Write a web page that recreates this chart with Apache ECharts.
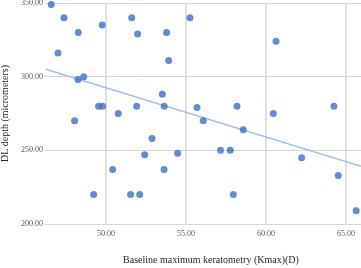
<!DOCTYPE html>
<html>
<head>
<meta charset="utf-8">
<script src="https://cdn.jsdelivr.net/npm/echarts@6/dist/echarts.min.js"></script>
<style>
  html, body { margin: 0; padding: 0; background: #fff; }
  #chart { width: 361px; height: 268px; }
</style>
</head>
<body>
<div id="chart"></div>
<script>
// Baseline Kmax (D) vs DL depth (micrometers)
const kmax = [
  46.58, 47.38, 48.27, 49.77, 47.0, 48.25, 48.61, 51.61, 51.98, 53.79,
  53.92, 55.25, 60.63, 48.04, 49.54, 49.79, 50.77, 51.92, 53.52, 53.64,
  55.69, 56.08, 58.19, 58.58, 60.46, 64.25, 52.88, 52.42, 54.48, 53.63,
  50.42, 49.23, 51.54, 52.11, 57.16, 57.77, 57.96, 62.23, 64.52, 65.64,
];
const dlDepth = [
  349, 340, 330, 335, 316, 298, 300, 340, 329, 330,
  311, 340, 324, 270, 280, 280, 275, 280, 288, 280,
  279, 270, 280, 264, 275, 280, 258, 247, 248, 237,
  237, 220, 220, 220, 250, 250, 220, 245, 233, 209,
];
// linear trend line ends, as drawn in the source figure
const trendX = [46.25, 66.5];
const trendY = [305.0, 237.3];

const xTicks = [50, 55, 60, 65];
const yTicks = [200, 250, 300, 350];

const font = "'Liberation Serif', 'Times New Roman', serif";
const gridColor = "#d6d6d6";

const chart = echarts.init(document.getElementById("chart"));

chart.setOption({
  animation: false,
  grid: { left: 45, right: -16, top: 3, bottom: 44, outerBoundsMode: "none", containLabel: false },
  xAxis: {
    type: "value",
    min: 46.19,
    max: 66.94,
    name: "Baseline maximum keratometry (Kmax)(D)",
    nameLocation: "middle",
    nameGap: 31,
    nameTextStyle: { fontFamily: font, fontSize: 10, color: "#262626" },
    axisLine: { show: true, lineStyle: { color: gridColor, width: 1 } },
    axisTick: { show: false, customValues: xTicks },
    axisLabel: {
      customValues: xTicks,
      margin: 6,
      fontFamily: font,
      fontSize: 8,
      color: "#595959",
      formatter: (v) => Number(v).toFixed(2),
    },
    splitLine: { show: true, lineStyle: { color: gridColor, width: 1.5 } },
  },
  yAxis: {
    type: "value",
    min: yTicks[0],
    max: yTicks[yTicks.length - 1],
    interval: 50,
    name: "DL depth (micrometers)",
    nameLocation: "middle",
    nameGap: 34,
    nameTextStyle: { fontFamily: font, fontSize: 10, color: "#262626" },
    axisLine: { show: false },
    axisTick: { show: false },
    axisLabel: {
      margin: 2,
      fontFamily: font,
      fontSize: 8,
      color: "#595959",
      formatter: (v) => Number(v).toFixed(2),
    },
    splitLine: { show: true, lineStyle: { color: gridColor, width: 1 } },
  },
  series: [
    {
      type: "line",
      data: trendX.map((x, i) => [x, trendY[i]]),
      showSymbol: false,
      lineStyle: { color: "#a3bfe8", width: 1.5 },
      silent: true,
      z: 1,
    },
    {
      type: "scatter",
      data: kmax.map((x, i) => [x, dlDepth[i]]),
      symbol: "circle",
      symbolSize: 7,
      itemStyle: { color: "#3f6fc6" },
      z: 2,
    },
  ],
});
</script>
</body>
</html>
